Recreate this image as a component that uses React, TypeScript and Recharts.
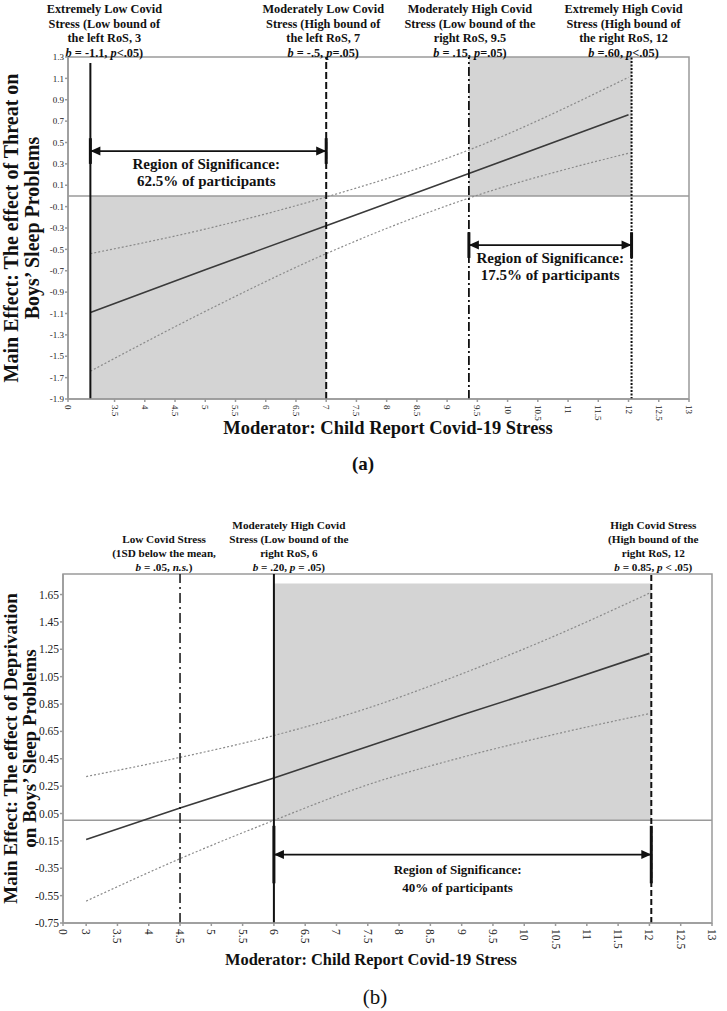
import React from "react";
import {
  ComposedChart,
  Line,
  Scatter,
  XAxis,
  YAxis,
  ReferenceLine,
  ReferenceArea,
} from "recharts";

const SERIF = "'Liberation Serif', 'Times New Roman', serif";
const INK = "#111";
const FRAME = "#9a9a9a";

// ---------- (a) threat ----------
const threatStress = [3.1, 5, 7, 9.36, 12];
const threatEffect = [-1.09, -0.69, -0.28, 0.21, 0.76];
const threatUpper = [-0.54, -0.31, -0.01, 0.43, 1.11];
const threatLower = [-1.64, -1.08, -0.54, -0.02, 0.4];

const threatXTicks = [2.73, 3.5, 4, 4.5, 5, 5.5, 6, 6.5, 7, 7.5, 8, 8.5, 9, 9.5, 10, 10.5, 11, 11.5, 12, 12.5, 13];
const threatXLabels = ["0", "3.5", "4", "4.5", "5", "5.5", "6", "6.5", "7", "7.5", "8", "8.5", "9", "9.5", "10", "10.5", "11", "11.5", "12", "12.5", "13"];
const threatYTicks = [-1.9, -1.7, -1.5, -1.3, -1.1, -0.9, -0.7, -0.5, -0.3, -0.1, 0.1, 0.3, 0.5, 0.7, 0.9, 1.1, 1.3];
const threatYLabels = ["-1.9", "-1.7", "-1.5", "-1.3", "-1.1", "-0.9", "-0.7", "-0.5", "-0.3", "-0.1", "0.1", "0.3", "0.5", "0.7", "0.9", "1.1", "1.3"];

const threatBounds = [3.1, 7, 9.36, 12.05];
const threatBoundTops = [1.245, 1.3, 1.3, 1.3];
const threatNotes = [
  ["Extremely Low Covid", "Stress (Low bound of", "the left RoS, 3", "*b* = -1.1, *p*<.05)"],
  ["Moderately Low Covid", "Stress (High bound of", "the left RoS, 7", "*b* = -.5, *p*=.05)"],
  ["Moderately High Covid", "Stress (Low bound of the", "right RoS, 9.5", "*b* = .15, *p*=.05)"],
  ["Extremely High Covid", "Stress (High bound of", "the right RoS, 12", "*b* =.60, *p*<.05)"],
];
const threatShadeX1 = [3.1, 9.36];
const threatShadeX2 = [7, 12.05];
const threatShadeY1 = [-1.9, 0];
const threatShadeY2 = [0, 1.3];
const threatRegionFrom = [3.1, 9.36];
const threatRegionTo = [7, 12.05];
const threatRegionLevel = [0.42, -0.46];
const threatRegionBracket = [0.12, 0.12];
const threatRegionText = [
  ["Region of Significance:", "62.5% of participants"],
  ["Region of Significance:", "17.5% of participants"],
];

// ---------- (b) deprivation ----------
const deprivationStress = [3, 4.5, 6, 7.5, 9, 10.5, 12];
const deprivationEffect = [-0.14, 0.09, 0.31, 0.54, 0.77, 0.99, 1.22];
const deprivationUpper = [0.32, 0.46, 0.62, 0.82, 1.07, 1.35, 1.66];
const deprivationLower = [-0.59, -0.28, 0.0, 0.26, 0.46, 0.63, 0.78];

const deprivationXTicks = [2.63, 3, 3.5, 4, 4.5, 5, 5.5, 6, 6.5, 7, 7.5, 8, 8.5, 9, 9.5, 10, 10.5, 11, 11.5, 12, 12.5, 13];
const deprivationXLabels = ["0", "3", "3.5", "4", "4.5", "5", "5.5", "6", "6.5", "7", "7.5", "8", "8.5", "9", "9.5", "10", "10.5", "11", "11.5", "12", "12.5", "13"];
const deprivationYTicks = [-0.75, -0.55, -0.35, -0.15, 0.05, 0.25, 0.45, 0.65, 0.85, 1.05, 1.25, 1.45, 1.65];
const deprivationYLabels = ["-0.75", "-0.55", "-0.35", "-0.15", "0.05", "0.25", "0.45", "0.65", "0.85", "1.05", "1.25", "1.45", "1.65"];

const deprivationBounds = [4.5, 6, 12.03];
const deprivationBoundTops = [1.8, 1.8, 1.8];
const deprivationNotes = [
  ["Low Covid Stress", "(1SD below the mean,", "*b* = .05, *n.s.*)"],
  ["Moderately High Covid", "Stress (Low bound of the", "right RoS, 6", "*b* = .20, *p* = .05)"],
  ["High Covid Stress", "(High bound of the", "right RoS, 12", "*b* = 0.85, *p* < .05)"],
];
const deprivationShadeX1 = [6];
const deprivationShadeX2 = [12.03];
const deprivationShadeY1 = [0];
const deprivationShadeY2 = [1.73];
const deprivationRegionFrom = [6];
const deprivationRegionTo = [12.03];
const deprivationRegionLevel = [-0.25];
const deprivationRegionBracket = [0.21];
const deprivationRegionText = [["Region of Significance:", "40% of participants"]];

const toPoints = (xs: number[], ys: number[]) => xs.map((x, i) => ({ x, y: ys[i] }));

const rich = (s: string) =>
  s.split("*").map((part, i) => (
    <tspan key={i} fontStyle={i % 2 ? "italic" : "normal"}>
      {part}
    </tspan>
  ));

// x tick labels read top to bottom, starting just under the axis
const XTick = (props: any) => {
  const { x, y, payload, ticks, labels, fontSize } = props;
  const label = labels[ticks.indexOf(payload.value)] ?? "";
  return (
    <g transform={`translate(${x},${y + 1}) rotate(90)`}>
      <text
        x={0}
        y={0}
        textAnchor="start"
        dominantBaseline="central"
        fontSize={fontSize}
        fontFamily={SERIF}
        fill="#222"
      >
        {label}
      </text>
    </g>
  );
};

const ArrowHead = (props: any) => {
  const { cx, cy, payload } = props;
  const d = payload.dir;
  const len = 10;
  const half = 4.5;
  return (
    <polygon
      points={`${cx},${cy} ${cx - d * len},${cy - half} ${cx - d * len},${cy + half}`}
      fill={INK}
    />
  );
};

type BoundStyle = { dash?: string; width: number };

type PanelProps = {
  width: number;
  height: number;
  margin: { top: number; right: number; bottom: number; left: number };
  xDomain: [number, number];
  xTicks: number[];
  xLabels: string[];
  yDomain: [number, number];
  yTicks: number[];
  yLabels: string[];
  tickFont: number;
  stress: number[];
  effect: number[];
  upper: number[];
  lower: number[];
  bounds: number[];
  boundTops: number[];
  boundStyles: BoundStyle[];
  notes: string[][];
  noteDx: number[];
  noteFont: number;
  noteGap: number;
  noteLast: number;
  shadeX1: number[];
  shadeX2: number[];
  shadeY1: number[];
  shadeY2: number[];
  regionFrom: number[];
  regionTo: number[];
  regionLevel: number[];
  regionBracket: number[];
  regionText: string[][];
  regionDx: number[];
  regionFont: number;
  regionDy: [number, number];
  yTitle: string[];
  yTitleX: number[];
  yTitleFont: number;
  xTitle: string;
  xTitleX: number;
  xTitleDy: number;
  xTitleFont: number;
  caption: string;
  captionX: number;
  captionDy: number;
  captionFont: number;
  captionWeight: string;
};

function Panel(p: PanelProps) {
  const plotTop = p.margin.top;
  const plotBottom = p.height - p.margin.bottom - 30;
  const heads = p.regionFrom.flatMap((f, i) => [
    { x: f, y: p.regionLevel[i], dir: -1 },
    { x: p.regionTo[i], y: p.regionLevel[i], dir: 1 },
  ]);
  const brackets = p.regionFrom.flatMap((f, i) => [
    { x: f, lo: p.regionLevel[i] - p.regionBracket[i], hi: p.regionLevel[i] + p.regionBracket[i] },
    { x: p.regionTo[i], lo: p.regionLevel[i] - p.regionBracket[i], hi: p.regionLevel[i] + p.regionBracket[i] },
  ]);

  return (
    <ComposedChart width={p.width} height={p.height} margin={p.margin}>
      <XAxis
        type="number"
        dataKey="x"
        domain={p.xDomain}
        ticks={p.xTicks}
        interval={0}
        allowDataOverflow
        height={30}
        stroke={FRAME}
        strokeWidth={1.5}
        tickSize={3}
        tick={(t: any) => (
          <XTick {...t} ticks={p.xTicks} labels={p.xLabels} fontSize={p.tickFont} />
        )}
        label={() => (
          <g fontFamily={SERIF} fill={INK}>
            <text
              x={p.xTitleX}
              y={plotBottom + p.xTitleDy}
              textAnchor="middle"
              fontSize={p.xTitleFont}
              fontWeight="bold"
            >
              {p.xTitle}
            </text>
            <text
              x={p.captionX}
              y={plotBottom + p.captionDy}
              textAnchor="middle"
              fontSize={p.captionFont}
              fontWeight={p.captionWeight}
            >
              {p.caption}
            </text>
          </g>
        )}
      />
      <YAxis
        type="number"
        domain={p.yDomain}
        ticks={p.yTicks}
        interval={0}
        allowDataOverflow
        width={40}
        stroke={FRAME}
        strokeWidth={1.5}
        tickSize={3}
        tickMargin={1}
        tick={{ fontSize: p.tickFont, fill: "#222", fontFamily: SERIF }}
        tickFormatter={(v: number) => p.yLabels[p.yTicks.indexOf(v)] ?? String(v)}
        label={() => {
          const cy = (plotTop + plotBottom) / 2;
          return (
            <g>
              {p.yTitle.map((line, i) => (
                <text
                  key={i}
                  x={p.yTitleX[i]}
                  y={cy}
                  transform={`rotate(-90, ${p.yTitleX[i]}, ${cy})`}
                  textAnchor="middle"
                  dominantBaseline="central"
                  fontSize={p.yTitleFont}
                  fontWeight="bold"
                  fontFamily={SERIF}
                  fill={INK}
                >
                  {line}
                </text>
              ))}
            </g>
          );
        }}
      />

      {p.shadeX1.map((x1, i) => (
        <ReferenceArea
          key={`s${i}`}
          x1={x1}
          x2={p.shadeX2[i]}
          y1={p.shadeY1[i]}
          y2={p.shadeY2[i]}
          fill="#d4d4d4"
          fillOpacity={1}
          stroke="none"
        />
      ))}
      <ReferenceArea
        x1={p.xDomain[0]}
        x2={p.xDomain[1]}
        y1={p.yDomain[0]}
        y2={p.yDomain[1]}
        fill="none"
        fillOpacity={0}
        stroke={FRAME}
        strokeWidth={1.5}
        ifOverflow="visible"
      />
      <ReferenceLine y={0} stroke="#9a9a9a" strokeWidth={1.5} />

      <Line
        data={toPoints(p.stress, p.upper)}
        dataKey="y"
        type="monotone"
        stroke="#8a8a8a"
        strokeWidth={1.2}
        strokeDasharray="2 2"
        dot={false}
        activeDot={false}
        isAnimationActive={false}
      />
      <Line
        data={toPoints(p.stress, p.lower)}
        dataKey="y"
        type="monotone"
        stroke="#8a8a8a"
        strokeWidth={1.2}
        strokeDasharray="2 2"
        dot={false}
        activeDot={false}
        isAnimationActive={false}
      />
      <Line
        data={toPoints(p.stress, p.effect)}
        dataKey="y"
        type="linear"
        stroke="#3a3a3a"
        strokeWidth={1.6}
        dot={false}
        activeDot={false}
        isAnimationActive={false}
      />

      {p.bounds.map((b, i) => (
        <ReferenceLine
          key={`b${i}`}
          segment={[
            { x: b, y: p.yDomain[0] },
            { x: b, y: p.boundTops[i] },
          ]}
          stroke={INK}
          strokeWidth={p.boundStyles[i].width}
          strokeDasharray={p.boundStyles[i].dash}
          label={(lp: any) => {
            const x = (lp.viewBox?.x ?? 0) + p.noteDx[i];
            const lines = p.notes[i];
            const last = plotTop + p.noteLast;
            return (
              <text
                textAnchor="middle"
                fontFamily={SERIF}
                fontWeight="bold"
                fontSize={p.noteFont}
                fill={INK}
              >
                {lines.map((l, j) => (
                  <tspan key={j} x={x} y={last - (lines.length - 1 - j) * p.noteGap}>
                    {rich(l)}
                  </tspan>
                ))}
              </text>
            );
          }}
        />
      ))}

      {p.regionFrom.map((f, i) => (
        <ReferenceLine
          key={`r${i}`}
          segment={[
            { x: f, y: p.regionLevel[i] },
            { x: p.regionTo[i], y: p.regionLevel[i] },
          ]}
          stroke={INK}
          strokeWidth={1.8}
          label={(lp: any) => {
            const vb = lp.viewBox ?? { x: 0, y: 0, width: 0 };
            const x = vb.x + vb.width / 2 + p.regionDx[i];
            return (
              <text
                textAnchor="middle"
                fontFamily={SERIF}
                fontWeight="bold"
                fontSize={p.regionFont}
                fill={INK}
              >
                {p.regionText[i].map((l, j) => (
                  <tspan key={j} x={x} y={vb.y + p.regionDy[j]}>
                    {l}
                  </tspan>
                ))}
              </text>
            );
          }}
        />
      ))}
      {brackets.map((br, i) => (
        <ReferenceLine
          key={`k${i}`}
          segment={[
            { x: br.x, y: br.lo },
            { x: br.x, y: br.hi },
          ]}
          stroke={INK}
          strokeWidth={3}
        />
      ))}
      <Scatter data={heads} dataKey="y" shape={ArrowHead} isAnimationActive={false} />
    </ComposedChart>
  );
}

export default function App() {
  return (
    <div
      style={{
        position: "absolute",
        left: 0,
        top: 0,
        width: 727,
        height: 1011,
        background: "#fff",
        fontFamily: SERIF,
      }}
    >
      <div style={{ position: "absolute", left: 0, top: 0 }}>
        <Panel
          width={727}
          height={480}
          margin={{ top: 57, right: 38, bottom: 51, left: 28 }}
          xDomain={[2.73, 13]}
          xTicks={threatXTicks}
          xLabels={threatXLabels}
          yDomain={[-1.9, 1.3]}
          yTicks={threatYTicks}
          yLabels={threatYLabels}
          tickFont={9}
          stress={threatStress}
          effect={threatEffect}
          upper={threatUpper}
          lower={threatLower}
          bounds={threatBounds}
          boundTops={threatBoundTops}
          boundStyles={[
            { width: 2 },
            { width: 2, dash: "7 3" },
            { width: 1.8, dash: "9 3 2 3" },
            { width: 2, dash: "2 1.5" },
          ]}
          notes={threatNotes}
          noteDx={[14, -3, 1, -8]}
          noteFont={12.3}
          noteGap={14.7}
          noteLast={0}
          shadeX1={threatShadeX1}
          shadeX2={threatShadeX2}
          shadeY1={threatShadeY1}
          shadeY2={threatShadeY2}
          regionFrom={threatRegionFrom}
          regionTo={threatRegionTo}
          regionLevel={threatRegionLevel}
          regionBracket={threatRegionBracket}
          regionText={threatRegionText}
          regionDx={[-2, 0]}
          regionFont={15}
          regionDy={[17.5, 35]}
          yTitle={["Main Effect: The effect of Threat on", "Boys’ Sleep Problems"]}
          yTitleX={[11, 32]}
          yTitleFont={20}
          xTitle="Moderator: Child Report Covid-19 Stress"
          xTitleX={388}
          xTitleDy={35}
          xTitleFont={18.5}
          caption="(a)"
          captionX={363}
          captionDy={71}
          captionFont={19}
          captionWeight="bold"
        />
      </div>
      <div style={{ position: "absolute", left: 0, top: 480 }}>
        <Panel
          width={727}
          height={531}
          margin={{ top: 94, right: 15, bottom: 58, left: 23 }}
          xDomain={[2.63, 13]}
          xTicks={deprivationXTicks}
          xLabels={deprivationXLabels}
          yDomain={[-0.75, 1.8]}
          yTicks={deprivationYTicks}
          yLabels={deprivationYLabels}
          tickFont={11.5}
          stress={deprivationStress}
          effect={deprivationEffect}
          upper={deprivationUpper}
          lower={deprivationLower}
          bounds={deprivationBounds}
          boundTops={deprivationBoundTops}
          boundStyles={[
            { width: 1.5, dash: "10 4 2 4" },
            { width: 2 },
            { width: 2, dash: "6 3" },
          ]}
          notes={deprivationNotes}
          noteDx={[-16, 15, 2]}
          noteFont={11.2}
          noteGap={14}
          noteLast={-3}
          shadeX1={deprivationShadeX1}
          shadeX2={deprivationShadeX2}
          shadeY1={deprivationShadeY1}
          shadeY2={deprivationShadeY2}
          regionFrom={deprivationRegionFrom}
          regionTo={deprivationRegionTo}
          regionLevel={deprivationRegionLevel}
          regionBracket={deprivationRegionBracket}
          regionText={deprivationRegionText}
          regionDx={[-5]}
          regionFont={13}
          regionDy={[19.5, 37.5]}
          yTitle={["Main Effect: The effect of Deprivation", "on Boys’ Sleep Problems"]}
          yTitleX={[10, 29]}
          yTitleFont={19}
          xTitle="Moderator: Child Report Covid-19 Stress"
          xTitleX={371}
          xTitleDy={42}
          xTitleFont={16.4}
          caption="(b)"
          captionX={375}
          captionDy={81}
          captionFont={21}
          captionWeight="normal"
        />
      </div>
    </div>
  );
}
